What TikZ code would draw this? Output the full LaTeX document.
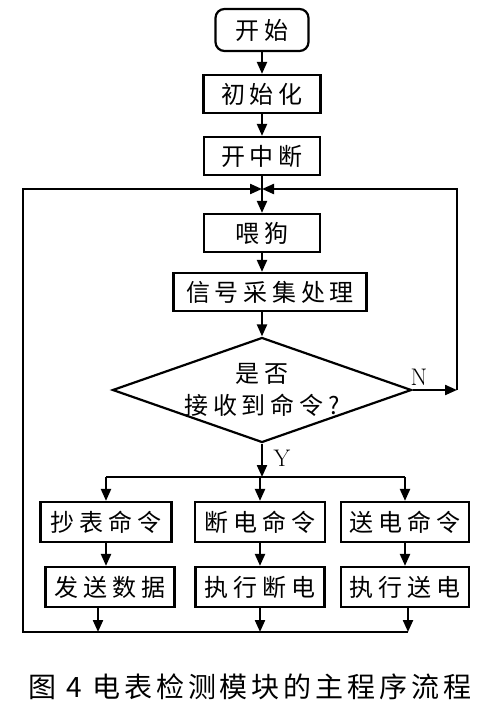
\documentclass[tikz,border=0pt]{standalone}
\usepackage{fontspec}
\newfontfamily\cjk[LetterSpace=20]{Noto Sans CJK SC}
\newfontfamily\cjkcap[LetterSpace=14]{Noto Sans CJK SC}
\usetikzlibrary{arrows.meta,positioning,shapes.geometric}

\begin{document}
\begin{tikzpicture}[x=1pt, y=-1pt,
  line width=2.2pt,
  box/.style={draw, line width=2.2pt, inner sep=0pt, minimum height=38pt,
              font=\cjk\fontsize{24}{32}\selectfont},
  term/.style={box, rounded corners=9pt, minimum width=93pt, minimum height=42pt},
  decision/.style={draw, diamond, aspect=2.85, line width=2.2pt, inner sep=-6pt,
                   align=center, minimum width=299pt, minimum height=105pt,
                   font=\cjk\fontsize{24}{32}\selectfont},
  lbl/.style={font=\fontsize{24}{26}\selectfont},
  ar/.style={-{Triangle[length=12pt,width=10pt]}}
]
\useasboundingbox (0,0) rectangle (503,712);

% main column
\node[term] (start) at (262,30) {开始};
\node[box, minimum width=117pt] (init) at (262,94) {初始化};
\node[box, minimum width=116pt] (intr) at (262,156) {开中断};
\coordinate (join) at (262,189);
\node[box, minimum width=116pt] (feed) at (262,233) {喂狗};
\node[box, minimum width=193pt] (sig) at (270,292) {信号采集处理};
\node[decision] (ask) at (262,390) {是否\\接收到命令?};
\coordinate (fork) at (262,477);
\coordinate (loopR) at (457,390);

% command branches
\node[box, minimum width=131pt, minimum height=40pt] (cmdA) at (106,522) {抄表命令};
\node[box, minimum width=130pt, minimum height=40pt] (cmdB) at (260,522) {断电命令};
\node[box, minimum width=128pt, minimum height=40pt] (cmdC) at (405,522) {送电命令};
\node[box, minimum width=129pt, minimum height=40pt] (doA) at (110,587) {发送数据};
\node[box, minimum width=129pt, minimum height=40pt] (doB) at (260,587) {执行断电};
\node[box, minimum width=128pt, minimum height=40pt] (doC) at (405,587) {执行送电};
\coordinate (base) at (262,632);
\coordinate (loopL) at (23,632);

\draw[ar] (start) -- (init);
\draw[ar] (init) -- (intr);
\draw[ar] (intr) -- (feed);
\draw[ar] (feed.south) -- (feed.south |- sig.north);
\draw[ar] (sig.south -| ask.north) -- (ask.north);

% N: back to the loop
\draw[ar] (ask.east) -- (loopR);
\draw[ar] (loopR) -- (loopR |- join) -- (join);
\node[lbl] (no) at (419,377) {N};

% Y: fork to the commands
\draw[ar] (ask.south) -- (fork);
\node[lbl] (yes) at (282,458) {Y};
\draw (cmdA.north |- fork) -- (cmdC.north |- fork);
\foreach \n in {cmdA,cmdB,cmdC} \draw[ar] (\n.north |- fork) -- (\n.north);
\draw[ar] (cmdA.south) -- (cmdA.south |- doA.north);
\draw[ar] (cmdB.south) -- (cmdB.south |- doB.north);
\draw[ar] (cmdC.south) -- (cmdC.south |- doC.north);

% back to the loop
\draw[ar] ([xshift=-12pt]doA.south) -- ([xshift=-12pt]doA.south |- base);
\draw[ar] (doB.south) -- (doB.south |- base);
\draw[ar] ([xshift=3pt]doC.south) -- ([xshift=3pt]doC.south |- base);
\draw[ar] ([xshift=3pt]doC.south |- base) -- (loopL) -- (loopL |- join) -- (join);

\node[font=\cjkcap\fontsize{28}{30}\selectfont] (cap) at (250,687)
  {图 4\hspace{10pt}电表检测模块的主程序流程};
\end{tikzpicture}
\end{document}
